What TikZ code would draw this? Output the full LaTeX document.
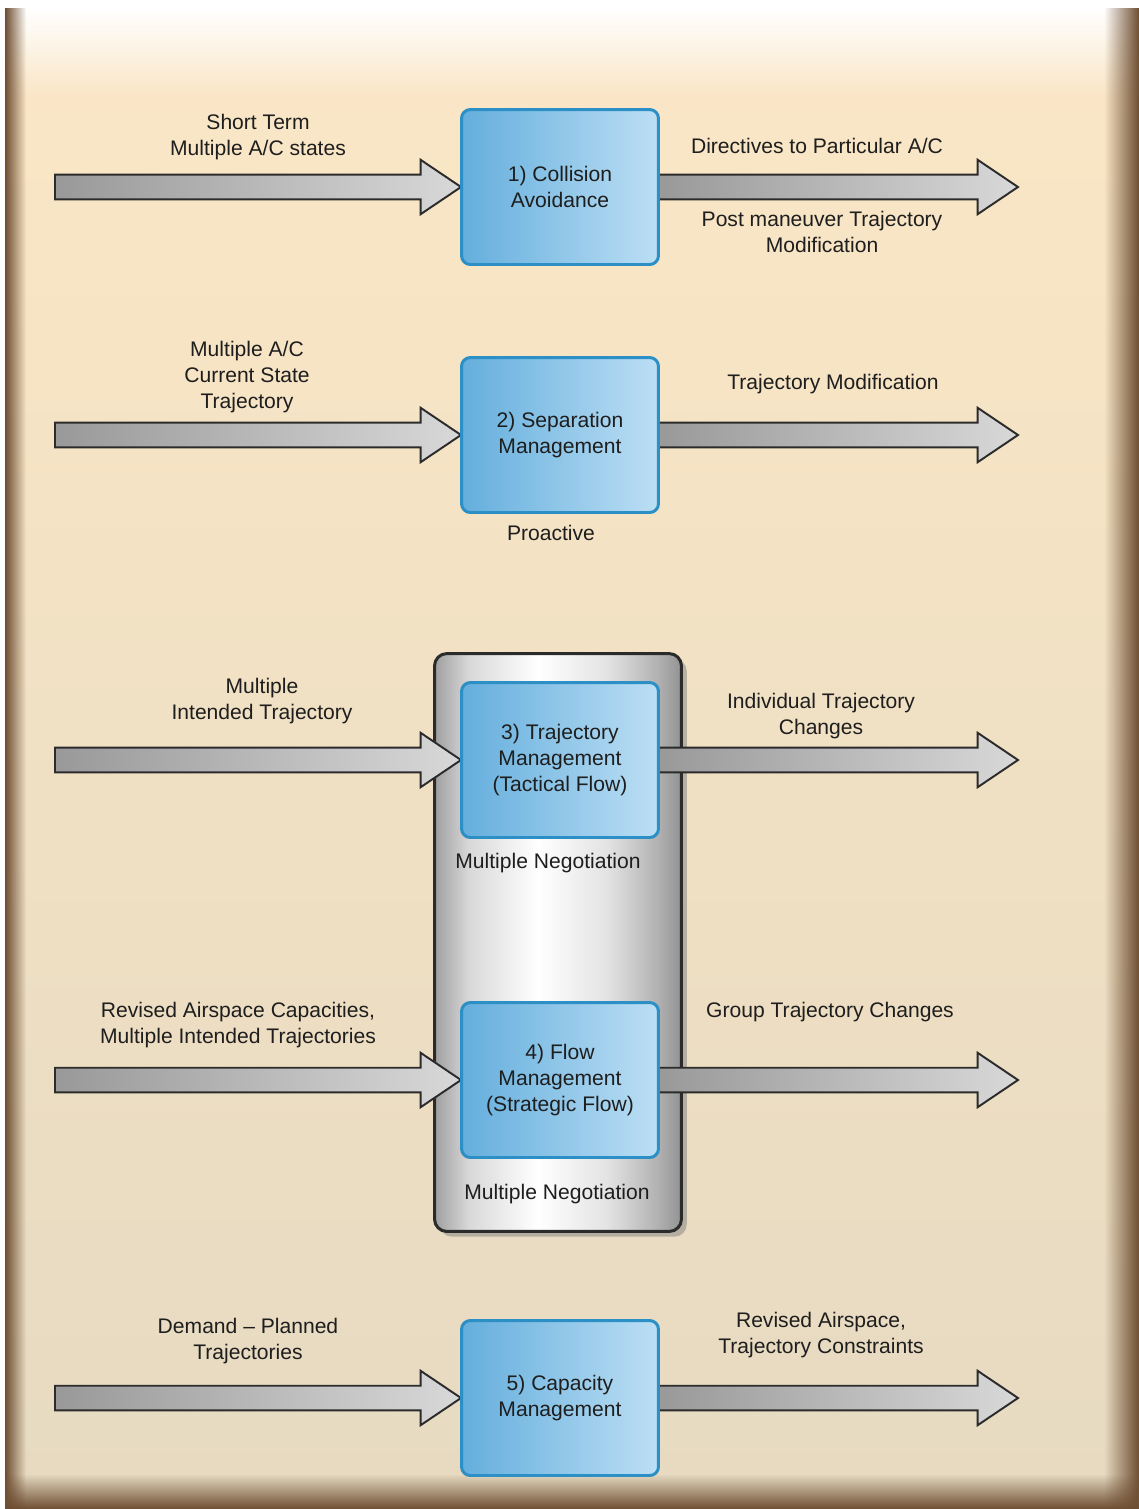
\documentclass[tikz,border=0pt]{standalone}
\usepackage{fontspec}
\setmainfont{Liberation Sans}
\usetikzlibrary{calc,shadows,fadings}

\definecolor{beigetop}{HTML}{FBE7C6}
\definecolor{beigebot}{HTML}{E6DAC1}
\definecolor{frame}{HTML}{6E4E32}
\definecolor{boxedge}{HTML}{2C8FC6}
\definecolor{boxdark}{HTML}{64AEDD}
\definecolor{boxlight}{HTML}{BCDFF4}
\definecolor{arrowedge}{HTML}{2B2B2B}
\definecolor{shaftdark}{HTML}{999999}
\definecolor{shaftmid}{HTML}{B4B4B4}
\definecolor{headlight}{HTML}{D8D8D8}
\definecolor{txt}{HTML}{1E1E1E}

\pgfdeclarehorizontalshading{silver}{100bp}{
  color(0bp)=(gray!75); color(25bp)=(gray!75); color(32bp)=(gray!30);
  color(46bp)=(white); color(60bp)=(gray!22); color(70bp)=(gray!60);
  color(75bp)=(gray!85); color(100bp)=(gray!85)}

\tikzset{
  lbl/.style={font=\fontsize{12}{14.8}\selectfont, text=txt, align=center, inner sep=0pt},
  func/.style={lbl, draw=boxedge, line width=1.7pt, rounded corners=5pt,
    left color=boxdark, right color=boxlight,
    minimum width=3.94cm, minimum height=3.1cm},
  panel/.style={draw=arrowedge, line width=1.7pt, rounded corners=7pt,
    shading=silver,
    minimum width=4.94cm, minimum height=11.56cm,
    drop shadow={shadow xshift=3pt, shadow yshift=-3pt, opacity=0.5}},
  flowarrow/.style={draw=arrowedge, line width=1.1pt, line join=miter,
    left color=shaftdark, middle color=shaftmid, right color=headlight,
    to path={let \p1=(\tikztostart), \p2=(\tikztotarget) in
      (\x1,\y1+7pt) -- (\x2-23pt,\y1+7pt) -- (\x2-23pt,\y1+15.5pt) -- (\x2,\y1)
      -- (\x2-23pt,\y1-15.5pt) -- (\x2-23pt,\y1-7pt) -- (\x1,\y1-7pt) -- cycle}}
}

\begin{document}
\begin{tikzpicture}[x=0.02cm, y=-0.02cm]
  \useasboundingbox (0,0) rectangle (1139,1509);
  % backdrop
  \fill[white] (0,0) rectangle (1139,1509);
  \shade[top color=beigetop, bottom color=beigebot] (5,8) rectangle (1139,1509);
  \fill[white, path fading=south] (5,8) rectangle (1139,95);
  \fill[frame, path fading=east] (5,8) rectangle (26,1509);
  \fill[frame, path fading=west] (1104,8) rectangle (1139,1509);
  \fill[frame, path fading=north] (5,1474) rectangle (1139,1509);

  % negotiation group
  \node[panel] (grp) at (558,942.5) {};

  % free ends of the flows
  \coordinate (s1) at (55,187);   \coordinate (e1) at (1018,187);
  \coordinate (s2) at (55,435);   \coordinate (e2) at (1018,435);
  \coordinate (s3) at (55,760);   \coordinate (e3) at (1018,760);
  \coordinate (s4) at (55,1080);  \coordinate (e4) at (1018,1080);
  \coordinate (s5) at (55,1398);  \coordinate (e5) at (1018,1398);

  \path (560,187) coordinate (c1) (560,435) coordinate (c2) (560,760) coordinate (c3)
        (560,1080) coordinate (c4) (560,1398) coordinate (c5);

  % flows (drawn under the boxes)
  \foreach \i in {1,...,5}{
    \draw[flowarrow] (s\i) to ($(c\i)+(-99,0)$);
    \draw[flowarrow] ($(c\i)+(99,0)$) to (e\i);
  }

  % functions
  \node[func] (b1) at (c1) {1) Collision\\Avoidance};
  \node[func] (b2) at (c2) {2) Separation\\Management};
  \node[func] (b3) at (c3) {3) Trajectory\\Management\\(Tactical Flow)};
  \node[func] (b4) at (c4) {4) Flow\\Management\\(Strategic Flow)};
  \node[func] (b5) at (c5) {5) Capacity\\Management};

  % labels
  \node[lbl] (in1)   at (258,137)  {Short Term\\Multiple A/C states};
  \node[lbl] (out1a) at (817,146)  {Directives to Particular A/C};
  \node[lbl] (out1b) at (822,232)  {Post maneuver Trajectory\\Modification};
  \node[lbl] (in2)   at (247,377)  {Multiple A/C\\Current State\\Trajectory};
  \node[lbl] (out2)  at (833,384)  {Trajectory Modification};
  \node[lbl] (pro2)  at (551,533)  {Proactive};
  \node[lbl] (in3)   at (262,701)  {Multiple\\Intended Trajectory};
  \node[lbl] (out3)  at (821,716)  {Individual Trajectory\\Changes};
  \node[lbl] (neg3)  at (548,863)  {Multiple Negotiation};
  \node[lbl] (in4)   at (238,1025) {Revised Airspace Capacities,\\Multiple Intended Trajectories};
  \node[lbl] (out4)  at (830,1012) {Group Trajectory Changes};
  \node[lbl] (neg4)  at (557,1194) {Multiple Negotiation};
  \node[lbl] (in5)   at (248,1341) {Demand -- Planned\\Trajectories};
  \node[lbl] (out5)  at (821,1335) {Revised Airspace,\\Trajectory Constraints};
\end{tikzpicture}
\end{document}
